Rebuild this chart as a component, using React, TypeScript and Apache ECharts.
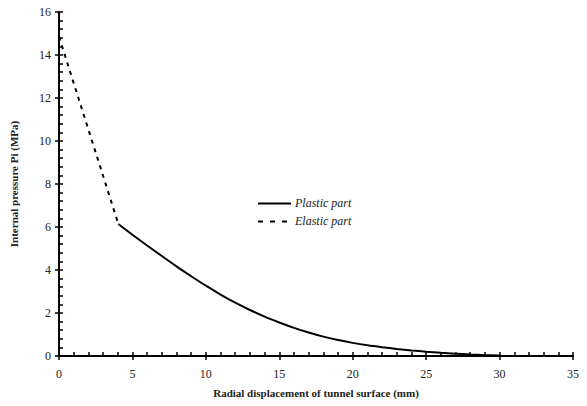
import React, { useEffect, useRef } from "react";
import * as echarts from "echarts";

const elasticX = [0, 4.04];
const elasticY = [14.85, 6.14];
const plasticX = [4.04, 5, 6, 7, 8, 9, 10, 11, 12, 13, 14, 15, 16, 17, 18, 19, 20, 21, 22, 23, 24, 25, 26, 27, 28, 29, 30];
const plasticY = [6.14, 5.64, 5.14, 4.65, 4.17, 3.71, 3.27, 2.86, 2.48, 2.14, 1.83, 1.56, 1.31, 1.09, 0.9, 0.74, 0.61, 0.5, 0.41, 0.33, 0.26, 0.2, 0.15, 0.11, 0.07, 0.04, 0.02];
const xTicks = { min: 0, max: 35, interval: 5, minor: 1 };
const yTicks = { min: 0, max: 16, interval: 2, minor: 0.4 };
const xName = "Radial displacement of tunnel surface (mm)";
const yName = "Internal pressure Pi (MPa)";
const seriesNames = ["Plastic part", "Elastic part"];

const FONT = "Liberation Serif, Times New Roman, serif";

export default function App() {
  const ref = useRef<HTMLDivElement>(null);
  useEffect(() => {
    if (!ref.current) return;
    const chart = echarts.init(ref.current, null, { renderer: "svg" });
    const lineCol = "#000";
    const textCol = "#222";
    const dash = [4, 5];
    const hidden = { axisLine: { show: false }, axisLabel: { show: false }, splitLine: { show: false } };
    const legendText = (y: number, text: string) => ({
      type: "text",
      left: 295,
      top: y - 7,
      style: { text, fontFamily: FONT, fontStyle: "italic", fontSize: 12, fill: textCol },
    });
    chart.setOption({
      animation: false,
      backgroundColor: "#fff",
      grid: { left: 53, right: 14, top: 12, bottom: 50, containLabel: false },
      graphic: [
        { type: "line", shape: { x1: 258, y1: 203.5, x2: 291, y2: 203.5 }, style: { stroke: lineCol, lineWidth: 2 } },
        { type: "line", shape: { x1: 258, y1: 221.5, x2: 291, y2: 221.5 }, style: { stroke: lineCol, lineWidth: 2, lineDash: [5, 7] } },
        legendText(203.5, seriesNames[0]),
        legendText(221.5, seriesNames[1]),
      ],
      xAxis: [
        {
          type: "value",
          min: xTicks.min,
          max: xTicks.max,
          interval: xTicks.interval,
          name: xName,
          nameLocation: "middle",
          nameGap: 31,
          nameTextStyle: { fontFamily: FONT, fontWeight: "bold", fontSize: 11, color: textCol },
          axisLine: { show: true, onZero: false, lineStyle: { color: lineCol, width: 2 } },
          axisTick: { show: true, inside: false, length: 4, lineStyle: { color: lineCol, width: 1.5 } },
          axisLabel: { fontFamily: FONT, fontSize: 12, color: textCol, margin: 12 },
          splitLine: { show: false },
        },
        {
          type: "value",
          position: "bottom",
          min: xTicks.min,
          max: xTicks.max,
          interval: xTicks.minor,
          axisTick: { show: true, inside: true, length: 4, lineStyle: { color: lineCol, width: 1.5 } },
          ...hidden,
        },
      ],
      yAxis: [
        {
          type: "value",
          min: yTicks.min,
          max: yTicks.max,
          interval: yTicks.interval,
          name: yName,
          nameLocation: "middle",
          nameGap: 40,
          nameTextStyle: { fontFamily: FONT, fontWeight: "bold", fontSize: 11, color: textCol },
          axisLine: { show: true, onZero: false, lineStyle: { color: lineCol, width: 2 } },
          axisTick: { show: true, inside: false, length: 4, lineStyle: { color: lineCol, width: 1.5 } },
          axisLabel: { fontFamily: FONT, fontSize: 12, color: textCol, margin: 8 },
          splitLine: { show: false },
        },
        {
          type: "value",
          position: "left",
          min: yTicks.min,
          max: yTicks.max,
          interval: yTicks.minor,
          axisTick: { show: true, inside: true, length: 4, lineStyle: { color: lineCol, width: 1.5 } },
          ...hidden,
        },
      ],
      series: [
        {
          name: seriesNames[0],
          type: "line",
          data: plasticX.map((x, i) => [x, plasticY[i]]),
          smooth: 0.3,
          symbol: "none",
          lineStyle: { color: lineCol, width: 2, type: "solid" },
          itemStyle: { color: lineCol },
        },
        {
          name: seriesNames[1],
          type: "line",
          data: elasticX.map((x, i) => [x, elasticY[i]]),
          symbol: "none",
          lineStyle: { color: lineCol, width: 2, type: dash },
          itemStyle: { color: lineCol },
        },
      ],
    });
    return () => chart.dispose();
  }, []);
  return <div ref={ref} style={{ position: "absolute", left: 0, top: 0, width: 587, height: 406 }} />;
}
